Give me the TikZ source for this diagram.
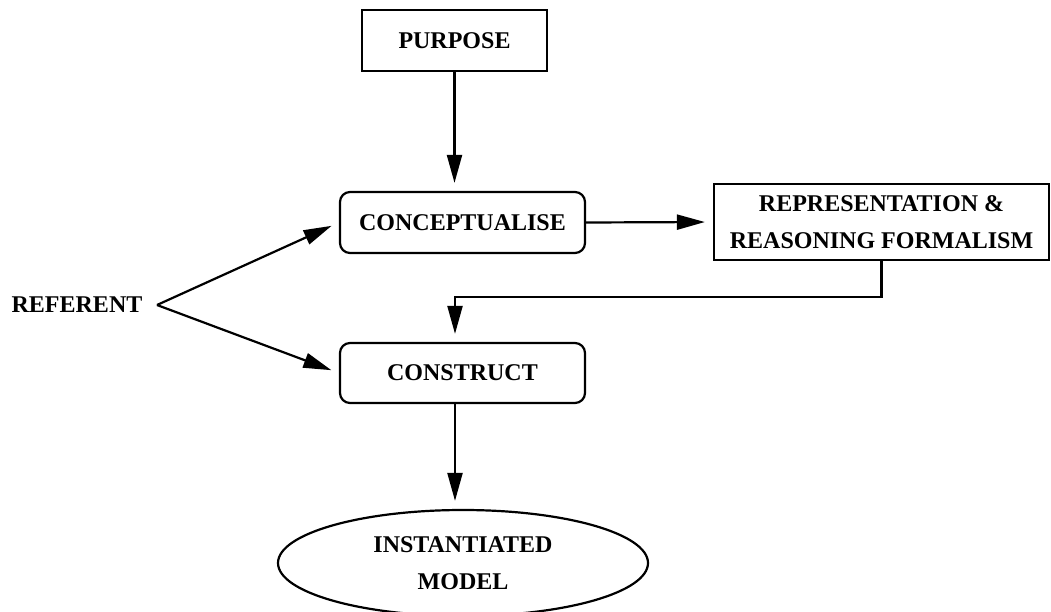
\documentclass[tikz,border=0pt]{standalone}
\usepackage{fontspec}
\setmainfont{Liberation Serif}
\usetikzlibrary{arrows.meta,shapes.geometric}
\begin{document}
\begin{tikzpicture}[x=1pt,y=-1pt,
  every node/.style={font=\fontsize{24}{37}\selectfont\bfseries, align=center, inner sep=0pt},
  sqbox/.style={draw, line width=2.2pt},
  rbox/.style={draw, line width=2.2pt, rounded corners=10pt},
  oval/.style={draw, line width=2.2pt, ellipse},
  flow/.style={line width=2.2pt, -{Triangle[length=28pt,width=15pt]}, shorten >=8pt}
]
\useasboundingbox (0,0) rectangle (1051,612);

% boxes
\node[sqbox, minimum width=185pt, minimum height=61pt] (purpose) at (454.5,40.5) {PURPOSE};
\node[rbox, minimum width=245pt, minimum height=61pt] (concept) at (462.5,222.5) {CONCEPTUALISE};
\node[sqbox, minimum width=335pt, minimum height=76pt] (rep) at (881.5,222) {REPRESENTATION \&\\REASONING FORMALISM};
\node[rbox, minimum width=245pt, minimum height=60pt] (construct) at (462.5,373) {CONSTRUCT};
\node[oval, minimum width=370pt, minimum height=106pt] (model) at (463,563) {INSTANTIATED\\MODEL};
\node (referent) at (77,305) {REFERENT};

% routing points
\coordinate (fork) at (157,305);
\coordinate (bend) at (455,297);

% connectors
\draw[flow] (purpose.south) -- (purpose.south |- concept.north);
\draw[flow] (concept.east) -- (rep.west);
\draw[flow] (rep.south) |- (bend) -- (bend |- construct.north);
\draw[flow] (bend |- construct.south) -- (bend |- model.north);
\draw[flow] (fork) -- (concept.west);
\draw[flow] (fork) -- (construct.west);
\end{tikzpicture}
\end{document}
